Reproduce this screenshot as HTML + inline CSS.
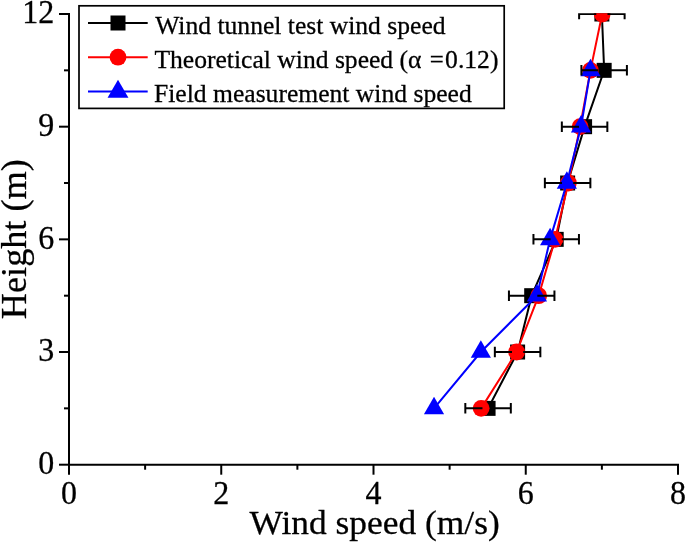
<!DOCTYPE html><html><head><meta charset="utf-8"><style>html,body{margin:0;padding:0;background:#fff;overflow:hidden}svg{display:block;will-change:transform}text{font-family:"Liberation Serif",serif;fill:#000;stroke:#000;stroke-width:0.28px}</style></head><body>
<svg width="685" height="543" viewBox="0 0 685 543">
<rect width="685" height="543" fill="#fff"/>
<defs><clipPath id="c"><rect x="60" y="13.3" width="640" height="460"/></clipPath></defs>
<g stroke="#000" stroke-width="2" fill="none" stroke-linecap="butt">
<path d="M69.0 13.0 V465.7"/>
<path d="M68.0 464.7 H679.0"/>
<path d="M69.00 464.7 v10"/>
<path d="M145.12 464.7 v5"/>
<path d="M221.25 464.7 v10"/>
<path d="M297.38 464.7 v5"/>
<path d="M373.50 464.7 v10"/>
<path d="M449.62 464.7 v5"/>
<path d="M525.75 464.7 v10"/>
<path d="M601.88 464.7 v5"/>
<path d="M678.00 464.7 v10"/>
<path d="M69.0 464.70 h-10"/>
<path d="M69.0 408.36 h-5"/>
<path d="M69.0 352.02 h-10"/>
<path d="M69.0 295.69 h-5"/>
<path d="M69.0 239.35 h-10"/>
<path d="M69.0 183.01 h-5"/>
<path d="M69.0 126.68 h-10"/>
<path d="M69.0 70.34 h-5"/>
<path d="M69.0 14.00 h-10"/>
</g>
<text transform="translate(69.00,504.2) scale(1,1.065)" font-size="32" text-anchor="middle">0</text>
<text transform="translate(221.25,504.2) scale(1,1.065)" font-size="32" text-anchor="middle">2</text>
<text transform="translate(373.50,504.2) scale(1,1.065)" font-size="32" text-anchor="middle">4</text>
<text transform="translate(525.75,504.2) scale(1,1.065)" font-size="32" text-anchor="middle">6</text>
<text transform="translate(678.00,504.2) scale(1,1.065)" font-size="32" text-anchor="middle">8</text>
<text transform="translate(54.3,473.90) scale(1,1.065)" font-size="32" text-anchor="end">0</text>
<text transform="translate(54.3,361.22) scale(1,1.065)" font-size="32" text-anchor="end">3</text>
<text transform="translate(54.3,248.55) scale(1,1.065)" font-size="32" text-anchor="end">6</text>
<text transform="translate(54.3,135.88) scale(1,1.065)" font-size="32" text-anchor="end">9</text>
<text transform="translate(54.3,23.20) scale(1,1.065)" font-size="32" text-anchor="end">12</text>
<text transform="translate(374.6,533.8) scale(1,0.94)" font-size="35.4" text-anchor="middle">Wind speed (m/s)</text>
<text transform="translate(25.5,239.2) rotate(-90) scale(1,0.96)" font-size="36.25" text-anchor="middle">Height (m)</text>
<g clip-path="url(#c)">
<polyline points="488.07,408.36 517.60,352.02 531.69,295.69 556.20,239.35 567.62,183.01 584.59,126.68 604.16,70.34 601.88,14.00" fill="none" stroke="#000" stroke-width="2"/>
<rect x="480.57" y="400.86" width="15" height="15" fill="#000"/>
<rect x="510.10" y="344.52" width="15" height="15" fill="#000"/>
<rect x="524.19" y="288.19" width="15" height="15" fill="#000"/>
<rect x="548.70" y="231.85" width="15" height="15" fill="#000"/>
<rect x="560.12" y="175.51" width="15" height="15" fill="#000"/>
<rect x="577.09" y="119.18" width="15" height="15" fill="#000"/>
<rect x="596.66" y="62.84" width="15" height="15" fill="#000"/>
<rect x="594.38" y="6.50" width="15" height="15" fill="#000"/>
<polyline points="481.14,408.36 516.62,352.02 538.69,295.69 555.06,239.35 568.38,183.01 580.10,126.68 590.46,70.34 602.18,14.00" fill="none" stroke="#f00" stroke-width="2"/>
<circle cx="481.14" cy="408.36" r="8.4" fill="#f00"/>
<circle cx="516.62" cy="352.02" r="8.4" fill="#f00"/>
<circle cx="538.69" cy="295.69" r="8.4" fill="#f00"/>
<circle cx="555.06" cy="239.35" r="8.4" fill="#f00"/>
<circle cx="568.38" cy="183.01" r="8.4" fill="#f00"/>
<circle cx="580.10" cy="126.68" r="8.4" fill="#f00"/>
<circle cx="590.46" cy="70.34" r="8.4" fill="#f00"/>
<circle cx="602.18" cy="14.00" r="8.4" fill="#f00"/>
<polyline points="434.02,408.36 480.84,352.02 536.94,295.69 550.11,239.35 566.86,183.01 581.02,126.68 590.46,70.34" fill="none" stroke="#00f" stroke-width="2"/>
<path d="M434.02 396.70 L444.12 414.19 L423.92 414.19 Z" fill="#00f"/>
<path d="M480.84 340.36 L490.94 357.86 L470.74 357.86 Z" fill="#00f"/>
<path d="M536.94 284.03 L547.04 301.52 L526.84 301.52 Z" fill="#00f"/>
<path d="M550.11 227.69 L560.21 245.18 L540.01 245.18 Z" fill="#00f"/>
<path d="M566.86 171.35 L576.96 188.84 L556.76 188.84 Z" fill="#00f"/>
<path d="M581.02 115.01 L591.12 132.51 L570.92 132.51 Z" fill="#00f"/>
<path d="M590.46 58.68 L600.56 76.17 L580.36 76.17 Z" fill="#00f"/>
<g stroke="#000" stroke-width="2" fill="none">
<path d="M465.32 408.36 H482.47 M493.67 408.36 H510.82 M465.32 403.11 v10.5 M510.82 403.11 v10.5"/>
<path d="M494.85 352.02 H512.00 M523.20 352.02 H540.35 M494.85 346.77 v10.5 M540.35 346.77 v10.5"/>
<path d="M508.94 295.69 H526.09 M537.29 295.69 H554.44 M508.94 290.44 v10.5 M554.44 290.44 v10.5"/>
<path d="M533.45 239.35 H550.60 M561.80 239.35 H578.95 M533.45 234.10 v10.5 M578.95 234.10 v10.5"/>
<path d="M544.87 183.01 H562.02 M573.22 183.01 H590.37 M544.87 177.76 v10.5 M590.37 177.76 v10.5"/>
<path d="M561.84 126.68 H578.99 M590.19 126.68 H607.34 M561.84 121.43 v10.5 M607.34 121.43 v10.5"/>
<path d="M581.41 70.34 H598.56 M609.76 70.34 H626.91 M581.41 65.09 v10.5 M626.91 65.09 v10.5"/>
<path d="M579.12 14.00 H596.27 M607.48 14.00 H624.62 M579.12 8.75 v10.5 M624.62 8.75 v10.5"/>
</g>
</g>
<rect x="79.0" y="5.8" width="425.2" height="102.6" fill="#fff" stroke="#000" stroke-width="1.7"/>
<path d="M88 23 H147.7" stroke="#000" stroke-width="2"/>
<path d="M88 57.2 H147.7" stroke="#f00" stroke-width="2"/>
<path d="M88 91.6 H147.7" stroke="#00f" stroke-width="2"/>
<rect x="110.5" y="15.5" width="15" height="15" fill="#000"/>
<circle cx="118" cy="57.2" r="8.4" fill="#f00"/>
<path d="M118.00 79.73 L128.45 97.83 L107.55 97.83 Z" fill="#00f"/>
<text x="155.2" y="33.9" font-size="25.6">Wind tunnel test wind speed</text>
<text x="154.4" y="67.6" font-size="25.6">Theoretical wind speed (α <tspan dx="1.8" textLength="14" lengthAdjust="spacingAndGlyphs">=</tspan><tspan dx="1.4">0.12)</tspan></text>
<text x="154.0" y="101.7" font-size="25.6">Field measurement wind speed</text>
</svg></body></html>
